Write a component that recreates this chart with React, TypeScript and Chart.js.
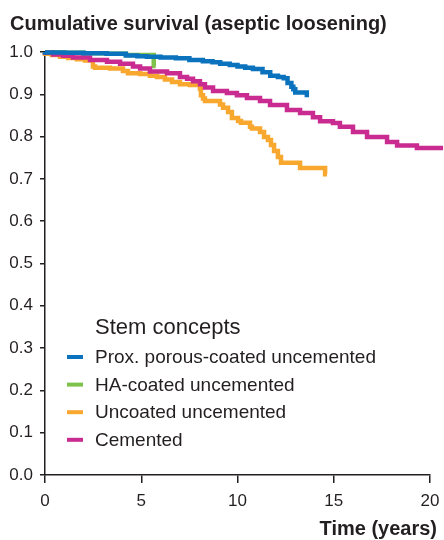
import React, { useEffect, useRef } from 'react';
import { Chart, registerables } from 'chart.js';

Chart.register(...registerables);

// ---- Data ----
const porousYears = [0, 1.0, 2.0, 3.2, 4.2, 4.8, 5.3, 6.0, 6.8, 7.5, 8.2, 8.7, 9.1, 9.6, 10.0, 10.4, 10.8, 11.3, 11.7, 12.1, 12.4, 12.6, 12.8, 12.9, 13.0, 13.25, 13.6, 13.6];
const porousSurv = [1.0, 0.999, 0.998, 0.997, 0.996, 0.992, 0.990, 0.989, 0.987, 0.985, 0.981, 0.978, 0.976, 0.972, 0.969, 0.966, 0.963, 0.960, 0.952, 0.944, 0.941, 0.938, 0.927, 0.918, 0.912, 0.904, 0.904, 0.893];

const haYears = [0, 1.0, 2.0, 3.2, 4.2, 5.65, 5.75];
const haSurv = [1.0, 0.999, 0.998, 0.997, 0.996, 0.993, 0.967];

const uncoatedYears = [0, 0.36, 0.78, 1.2, 1.66, 2.08, 2.49, 2.6, 3.38, 4.05, 4.31, 4.94, 5.45, 5.82, 6.23, 6.6, 7.01, 7.53, 8.05, 8.1, 8.21, 8.31, 9.09, 9.25, 9.51, 9.71, 10.03, 10.18, 10.65, 10.75, 11.17, 11.38, 11.58, 11.74, 11.9, 12.1, 12.26, 13.25, 14.55, 14.65];
const uncoatedSurv = [1.0, 0.996, 0.993, 0.989, 0.986, 0.983, 0.980, 0.966, 0.963, 0.961, 0.955, 0.950, 0.948, 0.944, 0.941, 0.935, 0.929, 0.924, 0.922, 0.913, 0.898, 0.890, 0.884, 0.876, 0.868, 0.858, 0.844, 0.837, 0.833, 0.823, 0.819, 0.811, 0.799, 0.792, 0.780, 0.766, 0.752, 0.738, 0.726, 0.711];

const cementedYears = [0, 0.42, 0.94, 1.45, 2.34, 3.22, 3.9, 4.57, 4.94, 5.45, 6.34, 7.01, 7.38, 7.69, 8.05, 8.31, 8.73, 9.45, 9.97, 10.49, 11.17, 11.69, 12.57, 13.25, 13.92, 14.29, 14.96, 15.32, 16.0, 16.73, 17.77, 18.29, 19.32, 19.84, 20.68];
const cementedSurv = [1.0, 0.998, 0.994, 0.991, 0.987, 0.981, 0.977, 0.972, 0.966, 0.961, 0.954, 0.950, 0.941, 0.937, 0.931, 0.924, 0.916, 0.908, 0.903, 0.898, 0.891, 0.884, 0.875, 0.863, 0.856, 0.846, 0.836, 0.832, 0.823, 0.811, 0.799, 0.787, 0.779, 0.773, 0.773];

const seriesNames = ['Prox. porous-coated uncemented', 'HA-coated uncemented', 'Uncoated uncemented', 'Cemented'];
const seriesColors = ['#0b72bd', '#7fc24b', '#f8a72f', '#c92b90'];
const seriesOrder = [0, 2, 3, 1];

const chartTitle = 'Cumulative survival (aseptic loosening)';
const xAxisTitle = 'Time (years)';
const legendTitle = 'Stem concepts';
const xMin = 0;
const xMax = 20;
const xStep = 5;
const yMin = 0;
const yMax = 1;
const yStep = 0.1;

const FONT = '"Liberation Sans", Arial, Helvetica, sans-serif';
const INK = '#231f20';

const zip = (xs: number[], ys: number[]) => xs.map((x, i) => ({ x, y: ys[i] }));

const annotationPlugin = {
  id: 'annotations',
  afterDraw(chart: any) {
    const { ctx, chartArea } = chart;
    ctx.save();
    ctx.fillStyle = INK;
    ctx.textBaseline = 'alphabetic';
    // chart title
    ctx.font = `bold 20px ${FONT}`;
    ctx.textAlign = 'left';
    ctx.fillText(chartTitle, 10, 30);
    // x axis title
    ctx.textAlign = 'right';
    ctx.fillText(xAxisTitle, chartArea.right + 7, chartArea.bottom + 60);
    // legend
    const lx = chartArea.left + 50;
    const ly = chartArea.top + 282;
    ctx.textAlign = 'left';
    ctx.font = `22px ${FONT}`;
    ctx.fillText(legendTitle, lx, ly);
    ctx.font = `19px ${FONT}`;
    seriesNames.forEach((name, i) => {
      const base = ly + 29 + i * 27.6;
      ctx.fillStyle = seriesColors[i];
      ctx.fillRect(chartArea.left + 22, base - 8, 16, 4);
      ctx.fillStyle = INK;
      ctx.fillText(name, lx, base);
    });
    ctx.restore();
  },
};

export default function App() {
  const canvasRef = useRef<HTMLCanvasElement | null>(null);

  useEffect(() => {
    document.body.style.margin = '0';
    const canvas = canvasRef.current;
    if (!canvas) return;
    const series = [
      zip(porousYears, porousSurv),
      zip(haYears, haSurv),
      zip(uncoatedYears, uncoatedSurv),
      zip(cementedYears, cementedSurv),
    ];
    const chart = new Chart(canvas, {
      type: 'line',
      data: {
        datasets: series.map((d, i) => ({
          label: seriesNames[i],
          data: d,
          borderColor: seriesColors[i],
          backgroundColor: seriesColors[i],
          borderWidth: 4.5,
          pointRadius: 0,
          stepped: 'after',
          fill: false,
          clip: false,
          order: seriesOrder[i],
          borderCapStyle: 'butt',
          borderJoinStyle: 'miter',
        })),
      },
      options: {
        animation: false,
        responsive: false,
        events: [],
        parsing: false,
        layout: { padding: { left: 8, right: 14, top: 52, bottom: 0 } },
        plugins: {
          legend: { display: false },
          tooltip: { enabled: false },
          title: { display: false },
        },
        scales: {
          x: {
            type: 'linear',
            min: xMin,
            max: xMax,
            afterFit: (s: any) => { s.height = 65; s.paddingLeft = 0; s.paddingRight = 0; },
            ticks: {
              stepSize: xStep,
              color: INK,
              padding: 8,
              font: { family: FONT, size: 17 },
            },
            grid: { display: true, drawOnChartArea: false, drawTicks: true, tickLength: 8, color: INK, lineWidth: 1.5 },
            border: { display: true, color: INK, width: 1.5 },
          },
          y: {
            type: 'linear',
            min: yMin,
            max: yMax,
            afterFit: (s: any) => { s.width = 37; s.paddingTop = 0; s.paddingBottom = 0; },
            ticks: {
              stepSize: yStep,
              color: INK,
              padding: 7,
              font: { family: FONT, size: 17 },
              callback: (v: any) => Number(v).toFixed(1),
            },
            grid: { display: true, drawOnChartArea: false, drawTicks: true, tickLength: 5, color: INK, lineWidth: 1.5 },
            border: { display: true, color: INK, width: 1.5 },
          },
        },
      },
      plugins: [annotationPlugin],
    } as any);
    return () => chart.destroy();
  }, []);

  return (
    <div style={{ width: 444, height: 540 }}>
      <canvas ref={canvasRef} width={444} height={540} style={{ width: 444, height: 540, display: 'block' }} />
    </div>
  );
}
